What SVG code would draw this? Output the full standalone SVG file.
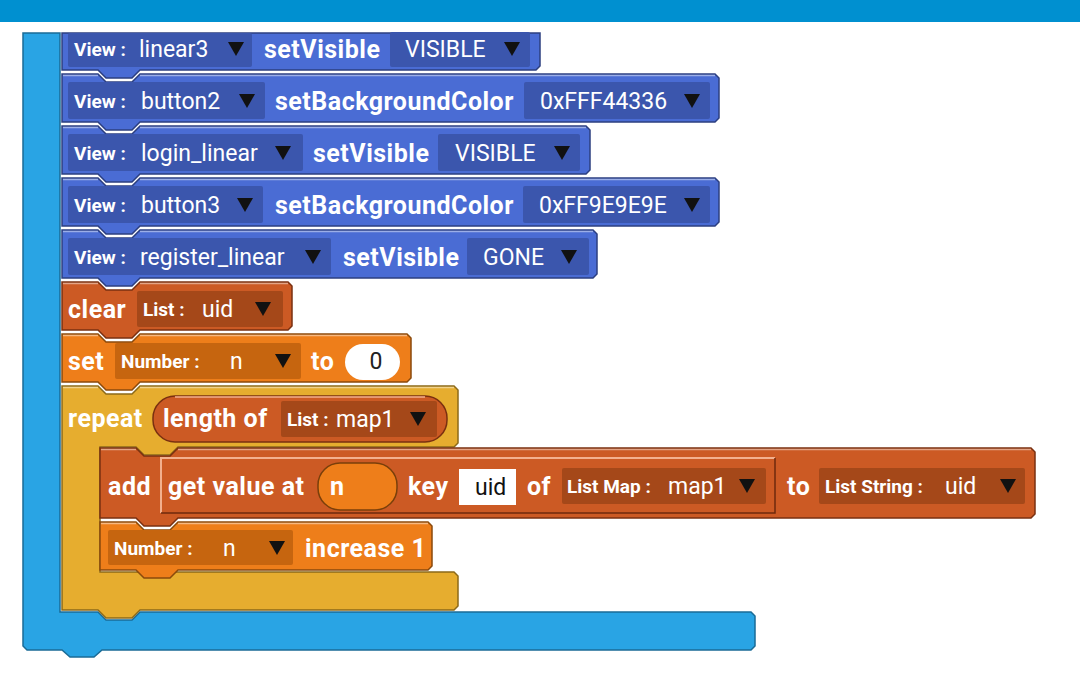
<svg xmlns="http://www.w3.org/2000/svg" xmlns:xlink="http://www.w3.org/1999/xlink" width="1080" height="700" viewBox="0 0 1080 700">
<style>
text{font-family:Roboto,"Liberation Sans",sans-serif;fill:#fff}
.b{font-weight:bold;font-size:25px;letter-spacing:0.5px}
.s{font-weight:bold;font-size:19px}
.r{font-weight:normal;font-size:23px}
.view{fill:#4a6cd4;stroke:#2c3f80;stroke-width:1.5}
.vf{fill:#3b56ad}
.red{fill:#cc5a24;stroke:#7a3010;stroke-width:1.5}
.rf{fill:#a54819}
.org{fill:#ee7e1a;stroke:#8a4a0c;stroke-width:1.5}
.of{fill:#c6650f}
.yel{fill:#e6ad2f;stroke:#8c6a1a;stroke-width:1.5}
.lb{fill:#29a4e4;stroke:#1a6b96;stroke-width:1.5}
.hl{fill:none;stroke:#ffffff;stroke-opacity:0.45;stroke-width:1.5}
</style>
<defs>
<path id="tri" d="M-8,-7 H8 L0,7 Z" fill="#111"/>
</defs>
<rect x="0" y="0" width="1080" height="22" fill="#0090d0"/>
<rect x="0" y="22" width="1080" height="678" fill="#ffffff"/>

<g id="loop-outer">
<path class="lb" d="M23,33 H60 V612 H98 l8,8 h26 l8,-8 H751 l4,4 V646 l-4,4 H102 l-8,7 h-24 l-8,-7 H27 l-4,-4 Z"/>
</g>

<g id="row1">
<path class="view" d="M62,33 H540 V66 l-4,4 H140 l-8,8 h-26 l-8,-8 H62 Z"/>
<rect class="vf" x="68" y="33" width="184" height="34" rx="2"/>
<text class="s" x="74" y="56">View :</text>
<text class="r" x="139" y="57">linear3</text>
<use xlink:href="#tri" x="236" y="49"/>
<text class="b" x="264" y="58">setVisible</text>
<rect class="vf" x="390" y="32" width="140" height="35" rx="2"/>
<text class="r" x="405" y="57">VISIBLE</text>
<use xlink:href="#tri" x="512" y="49"/>
</g>

<g id="row2">
<path class="view" d="M62,74 H98 l8,8 h26 l8,-8 H715 l4,4 V118 l-4,4 H140 l-8,8 h-26 l-8,-8 H62 Z"/>
<path class="hl" d="M63,75.5 H98 M140,75.5 H715"/>
<rect class="vf" x="68" y="82" width="197" height="37" rx="2"/>
<text class="s" x="74" y="108">View :</text>
<text class="r" x="141" y="109">button2</text>
<use xlink:href="#tri" x="247" y="101"/>
<text class="b" x="275" y="110">setBackgroundColor</text>
<rect class="vf" x="524" y="82" width="186" height="37" rx="2"/>
<text class="r" x="540" y="109">0xFFF44336</text>
<use xlink:href="#tri" x="692" y="101"/>
</g>

<g id="row3">
<path class="view" d="M62,126 H98 l8,8 h26 l8,-8 H586 l4,4 V170 l-4,4 H140 l-8,8 h-26 l-8,-8 H62 Z"/>
<path class="hl" d="M63,127.5 H98 M140,127.5 H586"/>
<rect class="vf" x="68" y="134" width="235" height="37" rx="2"/>
<text class="s" x="74" y="160">View :</text>
<text class="r" x="141" y="161">login_linear</text>
<use xlink:href="#tri" x="283" y="153"/>
<text class="b" x="313" y="162">setVisible</text>
<rect class="vf" x="438" y="134" width="142" height="37" rx="2"/>
<text class="r" x="455" y="161">VISIBLE</text>
<use xlink:href="#tri" x="562" y="153"/>
</g>

<g id="row4">
<path class="view" d="M62,178 H98 l8,8 h26 l8,-8 H715 l4,4 V222 l-4,4 H140 l-8,8 h-26 l-8,-8 H62 Z"/>
<path class="hl" d="M63,179.5 H98 M140,179.5 H715"/>
<rect class="vf" x="68" y="186" width="195" height="37" rx="2"/>
<text class="s" x="74" y="212">View :</text>
<text class="r" x="141" y="213">button3</text>
<use xlink:href="#tri" x="245" y="205"/>
<text class="b" x="275" y="214">setBackgroundColor</text>
<rect class="vf" x="523" y="186" width="187" height="37" rx="2"/>
<text class="r" x="539" y="213">0xFF9E9E9E</text>
<use xlink:href="#tri" x="692" y="205"/>
</g>

<g id="row5">
<path class="view" d="M62,230 H98 l8,8 h26 l8,-8 H593 l4,4 V274 l-4,4 H140 l-8,8 h-26 l-8,-8 H62 Z"/>
<path class="hl" d="M63,231.5 H98 M140,231.5 H593"/>
<rect class="vf" x="68" y="238" width="263" height="37" rx="2"/>
<text class="s" x="74" y="264">View :</text>
<text class="r" x="140" y="265">register_linear</text>
<use xlink:href="#tri" x="313" y="257"/>
<text class="b" x="343" y="266">setVisible</text>
<rect class="vf" x="467" y="238" width="122" height="37" rx="2"/>
<text class="r" x="483" y="265">GONE</text>
<use xlink:href="#tri" x="569" y="257"/>
</g>

<g id="clear">
<path class="red" d="M62,282 H98 l8,8 h26 l8,-8 H288 l4,4 V326 l-4,4 H140 l-8,8 h-26 l-8,-8 H62 Z"/>
<path class="hl" d="M63,283.5 H98 M140,283.5 H288"/>
<text class="b" x="68" y="318">clear</text>
<rect class="rf" x="137" y="291" width="146" height="36" rx="2"/>
<text class="s" x="143" y="316">List :</text>
<text class="r" x="202" y="317">uid</text>
<use xlink:href="#tri" x="263" y="309"/>
</g>

<g id="set">
<path class="org" d="M62,334 H98 l8,8 h26 l8,-8 H407 l4,4 V378 l-4,4 H140 l-8,8 h-26 l-8,-8 H62 Z"/>
<path class="hl" d="M63,335.5 H98 M140,335.5 H407"/>
<text class="b" x="68" y="370">set</text>
<rect class="of" x="115" y="343" width="186" height="36" rx="2"/>
<text class="s" x="121" y="368">Number :</text>
<text class="r" x="230" y="369">n</text>
<use xlink:href="#tri" x="283" y="361"/>
<text class="b" x="311" y="370">to</text>
<rect x="345" y="344" width="55" height="36" rx="18" fill="#fff"/>
<text class="r" x="376" y="369" text-anchor="middle" style="fill:#222">0</text>
</g>

<g id="repeat">
<path class="yel" d="M62,386 H98 l8,8 h26 l8,-8 H454 l4,4 V443 l-4,4 H178 l-8,8 h-26 l-8,-8 H100 V572 H454 l4,4 V606 l-4,4 H140 l-8,8 h-26 l-8,-8 H62 Z"/>
<path class="hl" d="M63,387.5 H98 M140,387.5 H454"/>
<text class="b" x="68" y="427">repeat</text>
<rect x="153" y="396" width="294" height="46" rx="22" fill="#cc5a24" stroke="#7a3010" stroke-width="1.5"/>
<path d="M175,397 H425" stroke="#f3b08e" stroke-width="1.5" fill="none"/>
<text class="b" x="163" y="427">length of</text>
<rect class="rf" x="281" y="401" width="156" height="36" rx="2"/>
<text class="s" x="287" y="426">List :</text>
<text class="r" x="336" y="427">map1</text>
<use xlink:href="#tri" x="418" y="419"/>
</g>

<g id="add">
<path class="red" d="M100,448 H136 l8,8 h26 l8,-8 H1031 l4,4 V514 l-4,4 H178 l-8,8 h-26 l-8,-8 H100 Z"/>
<path class="hl" d="M101,449.5 H136 M178,449.5 H1031"/>
<text class="b" x="108" y="495">add</text>
<rect x="160" y="457" width="615" height="56" fill="#cc5a24"/>
<path d="M161,513 V458 H775" fill="none" stroke="#f3b08e" stroke-width="2"/>
<path d="M775,458 V513 H161" fill="none" stroke="#6e2a0c" stroke-width="1.5"/>
<text class="b" x="168" y="495">get value at</text>
<rect x="318" y="463" width="79" height="47" rx="22" fill="#ee7e1a" stroke="#7a3f0a" stroke-width="1.5"/>
<text class="b" x="330" y="495">n</text>
<text class="b" x="408" y="495">key</text>
<rect x="459" y="469" width="57" height="36" fill="#fff"/>
<text class="r" x="475" y="495" style="fill:#111">uid</text>
<text class="b" x="527" y="495">of</text>
<rect class="rf" x="562" y="468" width="204" height="36" rx="2"/>
<text class="s" x="567" y="493">List Map :</text>
<text class="r" x="668" y="494">map1</text>
<use xlink:href="#tri" x="747" y="486"/>
<text class="b" x="787" y="495">to</text>
<rect class="rf" x="819" y="468" width="206" height="36" rx="2"/>
<text class="s" x="825" y="493">List String :</text>
<text class="r" x="945" y="494">uid</text>
<use xlink:href="#tri" x="1008" y="486"/>
</g>

<g id="increase">
<path class="org" d="M100,522 H136 l8,8 h26 l8,-8 H428 l4,4 V566 l-4,4 H178 l-8,8 h-26 l-8,-8 H100 Z"/>
<path class="hl" d="M101,523.5 H136 M178,523.5 H428"/>
<rect class="of" x="108" y="530" width="185" height="35" rx="2"/>
<text class="s" x="114" y="555">Number :</text>
<text class="r" x="223" y="556">n</text>
<use xlink:href="#tri" x="277" y="548"/>
<text class="b" x="305" y="557">increase 1</text>
</g>

<g id="connectors"></g>
</svg>
